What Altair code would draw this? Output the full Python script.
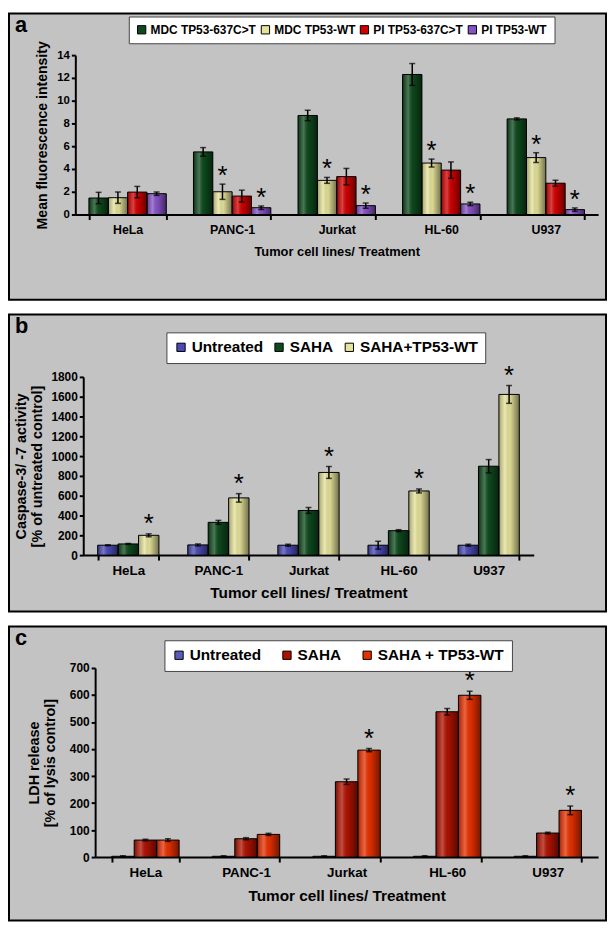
import altair as alt
import pandas as pd

cells = ["HeLa", "PANC-1", "Jurkat", "HL-60", "U937"]

# ---- Panel a: mean fluorescence intensity ----
a_series = ["MDC TP53-637C>T", "MDC TP53-WT", "PI TP53-637C>T", "PI TP53-WT"]
a_mdc_mut = [1.45, 5.5, 8.7, 12.3, 8.4]
a_mdc_mut_err = [0.5, 0.38, 0.46, 0.96, 0.09]
a_mdc_wt = [1.48, 2.0, 3.0, 4.52, 5.0]
a_mdc_wt_err = [0.5, 0.67, 0.26, 0.35, 0.43]
a_pi_mut = [1.97, 1.62, 3.33, 3.9, 2.75]
a_pi_mut_err = [0.5, 0.52, 0.72, 0.72, 0.26]
a_pi_wt = [1.83, 0.6, 0.78, 0.93, 0.43]
a_pi_wt_err = [0.15, 0.15, 0.23, 0.15, 0.15]
a_mdc_mut_star = [0, 0, 0, 0, 0]
a_mdc_wt_star = [0, 1, 1, 1, 1]
a_pi_mut_star = [0, 0, 0, 0, 0]
a_pi_wt_star = [0, 1, 1, 1, 1]
a_colors = ["#0e4a1d", "#e6e39a", "#d10000", "#8652c6"]

# ---- Panel b: caspase-3/-7 activity ----
b_series = ["Untreated", "SAHA", "SAHA+TP53-WT"]
b_untreated = [100, 103, 100, 100, 100]
b_untreated_err = [5, 10, 10, 40, 10]
b_saha = [113, 331, 451, 247, 898]
b_saha_err = [5, 20, 30, 10, 67]
b_saha_wt = [200, 578, 835, 648, 1623]
b_saha_wt_err = [15, 43, 60, 20, 90]
b_untreated_star = [0, 0, 0, 0, 0]
b_saha_star = [0, 0, 0, 0, 0]
b_saha_wt_star = [1, 1, 1, 1, 1]
b_colors = ["#4a4ab4", "#0e4a1d", "#e6e39a"]

# ---- Panel c: LDH release ----
c_series = ["Untreated", "SAHA", "SAHA + TP53-WT"]
c_untreated = [3, 3, 3, 3, 3]
c_untreated_err = [2, 2, 2, 2, 2]
c_saha = [63, 68, 279, 538, 89]
c_saha_err = [3, 4, 10, 12, 3]
c_saha_wt = [63, 84, 396, 599, 173]
c_saha_wt_err = [5, 4, 6, 15, 16]
c_untreated_star = [0, 0, 0, 0, 0]
c_saha_star = [0, 0, 0, 0, 0]
c_saha_wt_star = [0, 0, 1, 1, 1]
c_colors = ["#5a5abc", "#b01200", "#e83000"]

FONT = "Liberation Sans, Arial, sans-serif"
W = 603


def make_df(series, vals, errs, stars):
    rows = []
    for s, v, e, st in zip(series, vals, errs, stars):
        for c, vv, ee, ss in zip(cells, v, e, st):
            rows.append(dict(cell=c, series=s, value=vv, lo=max(vv - ee, 0), hi=vv + ee, star=ss))
    return pd.DataFrame(rows)


shade = alt.Gradient(
    gradient="linear", x1=0, x2=1, y1=0, y2=0,
    stops=[
        alt.GradientStop(color="rgba(0,0,0,0.30)", offset=0),
        alt.GradientStop(color="rgba(255,255,255,0.25)", offset=0.3),
        alt.GradientStop(color="rgba(0,0,0,0.05)", offset=0.55),
        alt.GradientStop(color="rgba(0,0,0,0.50)", offset=1),
    ],
)


def panel(df, series, colors, H, pl, pr, y0, ytop, ymax, ystep, ytitle,
          letter, lx, ly, pad_in, xlab_fs, xtitle_fs, ylab_fs, ytitle_fs,
          leg_fs, leg_gap, lab_pad, title_pad, star_dy, ytitle_pad):
    xaxis = alt.Axis(
        orient="bottom", offset=-(H - y0), title="Tumor cell lines/ Treatment",
        labelAngle=0, labelFont=FONT, labelFontSize=xlab_fs, labelFontWeight="bold",
        titleFont=FONT, titleFontSize=xtitle_fs, titleFontWeight="bold",
        tickBand="extent", tickSize=5, tickWidth=2, domainWidth=2,
        labelPadding=lab_pad, titlePadding=title_pad,
    )
    yaxis = alt.Axis(
        orient="left", offset=-pl, title=ytitle, values=list(range(0, ymax + 1, ystep)),
        format="d",
        labelFont=FONT, labelFontSize=ylab_fs, labelFontWeight="bold",
        titleFont=FONT, titleFontSize=ytitle_fs, titleFontWeight="bold",
        tickSize=4, tickWidth=2, domainWidth=2, labelPadding=2, titlePadding=ytitle_pad,
        grid=False,
    )
    xs = alt.Scale(range=[pl, pr], paddingInner=pad_in, paddingOuter=pad_in / 2)
    ys = alt.Scale(domain=[0, ymax], range=[y0, ytop], nice=False, zero=True)
    X = alt.X("cell:N", sort=cells, scale=xs, axis=xaxis)
    XO = alt.XOffset("series:N", sort=series, scale=alt.Scale(domain=series, paddingInner=0, paddingOuter=0))

    def Y(f):
        return alt.Y(f + ":Q", scale=ys, axis=yaxis)

    base = alt.Chart(df)
    bars = base.mark_bar(strokeWidth=0).encode(
        x=X, xOffset=XO, y=Y("value"),
        color=alt.Color("series:N", scale=alt.Scale(domain=series, range=colors),
                        legend=alt.Legend(
                            orient="none", legendX=lx, legendY=ly, direction="horizontal",
                            title=None, fillColor="white", strokeColor="#444", padding=7,
                            symbolType="square", symbolSize=70, symbolStrokeColor="black",
                            symbolStrokeWidth=1, labelFont=FONT, labelFontSize=leg_fs,
                            labelFontWeight="bold", labelLimit=0, columnPadding=leg_gap,
                            labelOffset=3, symbolOpacity=1,
                        )),
    )
    shading = base.mark_bar(color=shade, stroke="black", strokeWidth=1).encode(
        x=X, xOffset=XO, y=Y("value"))
    rule = base.mark_rule(color="black", strokeWidth=1.5).encode(
        x=X, xOffset=XO, y=Y("lo"), y2="hi:Q")
    cap_hi = base.mark_tick(color="black", size=6, thickness=1.5).encode(
        x=X, xOffset=XO, y=Y("hi"))
    cap_lo = base.mark_tick(color="black", size=6, thickness=1.5).encode(
        x=X, xOffset=XO, y=Y("lo"))
    stars = base.transform_filter("datum.star == 1").mark_text(
        text="*", fontSize=26, font="Liberation Sans, Arial", color="black", baseline="middle",
        dy=star_dy).encode(x=X, xOffset=XO, y=Y("hi"))
    lab = alt.Chart(pd.DataFrame({"t": [letter]})).mark_text(
        font="Liberation Sans, Arial", fontSize=22, fontWeight="bold", align="left",
        baseline="top", color="black").encode(
        x=alt.value(6), y=alt.value(2), text="t:N")
    return alt.layer(bars, shading, rule, cap_hi, cap_lo, stars, lab).properties(width=W, height=H)


df_a = make_df(a_series, [a_mdc_mut, a_mdc_wt, a_pi_mut, a_pi_wt],
               [a_mdc_mut_err, a_mdc_wt_err, a_pi_mut_err, a_pi_wt_err],
               [a_mdc_mut_star, a_mdc_wt_star, a_pi_mut_star, a_pi_wt_star])
df_b = make_df(b_series, [b_untreated, b_saha, b_saha_wt],
               [b_untreated_err, b_saha_err, b_saha_wt_err],
               [b_untreated_star, b_saha_star, b_saha_wt_star])
df_c = make_df(c_series, [c_untreated, c_saha, c_saha_wt],
               [c_untreated_err, c_saha_err, c_saha_wt_err],
               [c_untreated_star, c_saha_star, c_saha_wt_star])

pa = panel(df_a, a_series, a_colors, H=289, pl=67, pr=595, y0=203, ytop=42, ymax=14, ystep=2,
           ytitle="Mean fluorescence intensity", letter="a", lx=121, ly=3, pad_in=0.26,
           xlab_fs=12.5, xtitle_fs=13, ylab_fs=11.5, ytitle_fs=14.2, leg_fs=12, leg_gap=2,
           lab_pad=4, title_pad=10, star_dy=-8, ytitle_pad=7)
pb = panel(df_b, b_series, b_colors, H=300, pl=75, pr=530, y0=243, ytop=63, ymax=1800, ystep=200,
           ytitle=["Caspase-3/ -7 activity", "[% of untreated control]"], letter="b",
           lx=159, ly=18, pad_in=0.32, xlab_fs=13.5, xtitle_fs=15.5, ylab_fs=12, ytitle_fs=14.5,
           leg_fs=15.5, leg_gap=8, lab_pad=4, title_pad=8, star_dy=-10, ytitle_pad=6)
pc = panel(df_c, c_series, c_colors, H=297, pl=87, pr=595, y0=233, ytop=42, ymax=700, ystep=100,
           ytitle=["LDH release", "[% of lysis control]"], letter="c",
           lx=157, ly=14, pad_in=0.33, xlab_fs=13.5, xtitle_fs=15.5, ylab_fs=12, ytitle_fs=14.5,
           leg_fs=15.5, leg_gap=18, lab_pad=4, title_pad=9, star_dy=-10, ytitle_pad=12)

chart = alt.vconcat(pa, pb, pc, spacing=13).resolve_scale(
    x="independent", y="independent", color="independent", xOffset="independent"
).resolve_legend(color="independent").properties(
    padding=0, background="white"
).configure_view(
    fill="#c3c3c3", stroke="black", strokeWidth=2
).configure_axis(
    domainColor="black", tickColor="black", labelColor="black", titleColor="black"
)

chart.save("out.html", embed_options={"renderer": "svg", "actions": False})
